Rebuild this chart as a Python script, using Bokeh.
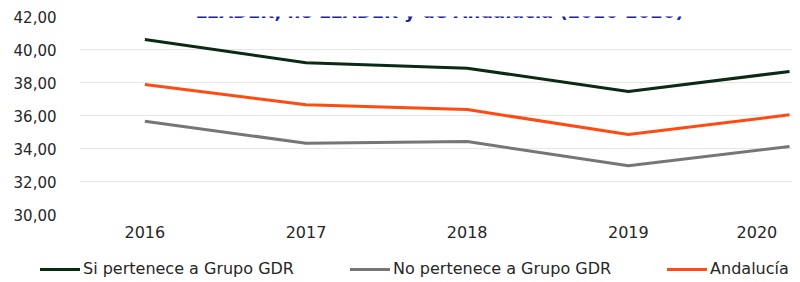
from bokeh.plotting import figure
from bokeh.layouts import column
from bokeh.models import Range1d, FixedTicker, Label, Div
from bokeh.embed import file_html
from bokeh.resources import INLINE

# ---- data ----
years = [2016, 2017, 2018, 2019, 2020]
si_gdr = [40.60, 39.20, 38.87, 37.45, 38.67]
no_gdr = [35.65, 34.32, 34.42, 32.95, 34.12]
andalucia = [37.88, 36.65, 36.36, 34.85, 36.04]
series_names = ["Si pertenece a Grupo GDR", "No pertenece a Grupo GDR", "Andalucía"]
series_colors = ["#0b2a14", "#767676", "#ff4a12"]
y_ticks = [30, 32, 34, 36, 38, 40, 42]
y_tick_labels = ["30,00", "32,00", "34,00", "36,00", "38,00", "40,00", "42,00"]
title_text = "LEADER, no LEADER y de Andalucía (2016-2020)"

FONT = "DejaVu Sans"
TXT = "#262626"

p = figure(width=792, height=244, output_backend="svg", toolbar_location=None,
           x_range=Range1d(2015.5945, 2020.0184), y_range=Range1d(30, 42),
           min_border_left=72, min_border_right=0, min_border_top=16, min_border_bottom=30)
p.outline_line_color = None
p.background_fill_color = "white"
p.border_fill_color = "white"

# axes
x_labels = {y: str(y) for y in years}
# the last label is pushed left so it fits inside the chart, as in the original
x_labels[years[-1]] = str(years[-1]) + "\u00a0" * 3
p.xaxis.ticker = FixedTicker(ticks=years)
p.xaxis.major_label_overrides = x_labels
p.xaxis.axis_line_color = None
p.xaxis.major_tick_line_color = None
p.xaxis.minor_tick_line_color = None
p.xaxis.major_label_text_font = FONT
p.xaxis.major_label_text_font_size = "16px"
p.xaxis.major_label_text_color = TXT
p.xaxis.major_label_standoff = 2

p.yaxis.ticker = FixedTicker(ticks=y_ticks)
p.yaxis.major_label_overrides = dict(zip(y_ticks, y_tick_labels))
p.yaxis.axis_line_color = None
p.yaxis.major_tick_line_color = None
p.yaxis.minor_tick_line_color = None
p.yaxis.major_label_text_font = FONT
p.yaxis.major_label_text_font_size = "15px"
p.yaxis.major_label_text_color = TXT
p.yaxis.major_label_standoff = 17
# a blank, small axis label only reserves some room on the left
p.yaxis.axis_label = "\u00a0"
p.yaxis.axis_label_text_font_size = "7px"
p.yaxis.axis_label_standoff = 0

p.xgrid.grid_line_color = None
p.ygrid.grid_line_color = "#e6e6e6"
p.ygrid.grid_line_width = 1

# lines
for vals, col in zip([si_gdr, no_gdr, andalucia], series_colors):
    p.line(years, vals, line_color=col, line_width=3)

# partially visible title at the very top (cut off in the original too)
p.add_layout(Label(x=360, x_units="screen", y=203, y_units="screen",
                   text=title_text, text_align="center", text_baseline="alphabetic",
                   text_font=FONT, text_font_size="18px", text_font_style="bold",
                   text_color="#22229a"))

# ---- legend strip below the chart ----
item_html = "".join(
    f'<span style="display:inline-flex;align-items:center;white-space:nowrap">'
    f'<span style="display:inline-block;width:40px;height:0;border-top:3px solid {col};'
    f'margin-right:3px"></span>{name}</span>'
    for name, col in zip(series_names, series_colors))
legend_html = (f'<div style="display:flex;gap:56px;padding-left:40px;padding-top:15px;'
               f'font-family:\'{FONT}\';font-size:16px;line-height:20px;color:{TXT}">'
               f'{item_html}</div>')
legend_div = Div(text=legend_html, width=792, height=30, margin=(0, 0, 0, 0))

layout = column(p, legend_div, spacing=0)
open("out.html", "w").write(file_html(layout, INLINE))
